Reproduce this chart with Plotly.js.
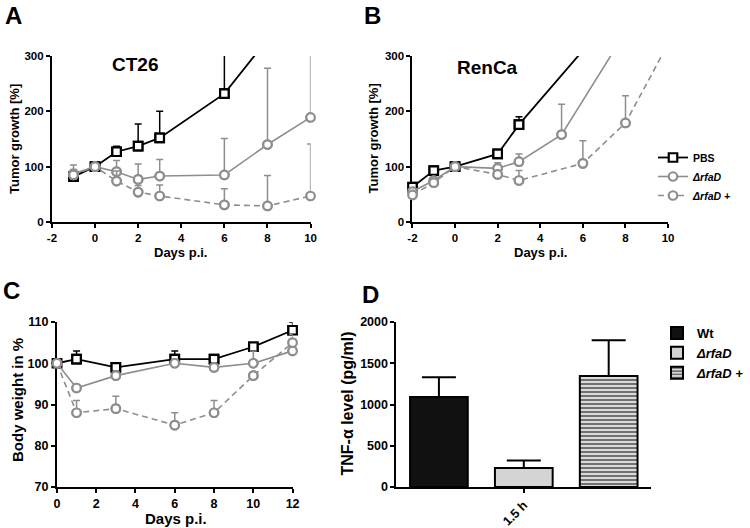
<!DOCTYPE html>
<html><head><meta charset="utf-8">
<script src="https://cdn.plot.ly/plotly-3.0.1.min.js"></script>
<style>html,body{margin:0;padding:0;background:#fff}#chart{width:750px;height:528px}</style>
</head><body><div id="chart"></div>
<script>
// ---------- DATA ----------
const seriesNames = ['PBS', 'ΔrfaD', 'ΔrfaD +'];

// Panel A - CT26 tumor growth [%]
const daysA_pbs   = [-1, 0, 1, 2, 3, 6, 8];
const tumorA_pbs  = [82, 100, 127, 137, 152, 232, 330];
const errA_pbs    = [0, 0, 10, 40, 48, 100, 0];
const daysA_rfaD  = [-1, 0, 1, 2, 3, 6, 8, 10];
const tumorA_rfaD = [87, 100, 91, 77, 83, 85, 140, 189];
const errA_rfaD   = [16, 0, 20, 28, 30, 66, 138, 115];
const daysA_rfaDp = [-1, 0, 1, 2, 3, 6, 8, 10];
const tumorA_rfaDp= [85, 100, 74, 54, 47, 31, 29, 47];
const errA_rfaDp  = [10, 0, 18, 12, 20, 29, 55, 94];

// Panel B - RenCa tumor growth [%]
const daysB_pbs   = [-2, -1, 0, 2, 3, 6];
const tumorB_pbs  = [63, 93, 100, 123, 176, 310];
const errB_pbs    = [0, 0, 0, 4, 14, 0];
const daysB_rfaD  = [-2, -1, 0, 2, 3, 5, 8];
const tumorB_rfaD = [55, 75, 100, 97, 109, 158, 343];
const errB_rfaD   = [0, 0, 0, 10, 14, 55, 0];
const daysB_rfaDp = [-2, -1, 0, 2, 3, 6, 8, 10];
const tumorB_rfaDp= [49, 71, 100, 86, 75, 106, 179, 322];
const errB_rfaDp  = [0, 0, 0, 0, 18, 41, 49, 0];

// Panel C - body weight in %
const daysC        = [0, 1, 3, 6, 8, 10, 12];
const weightC_pbs  = [100, 101, 99, 101, 101, 104, 108];
const errC_pbs     = [0, 2, 0, 2, 0, 0, 2];
const weightC_rfaD = [100, 94, 97, 100, 99, 100, 103];
const errC_rfaD    = [0, 0, 0, 1, 0, 3, 0];
const weightC_rfaDp= [100, 88, 89, 85, 88, 97, 105];
const errC_rfaDp   = [0, 3, 3, 3, 3, 0, 2];

// Panel D - TNF-alpha level (pg/ml) at 1.5 h
const barNames = ['Wt', 'ΔrfaD', 'ΔrfaD +'];
const tnfLevel = [1090, 230, 1345];
const tnfErr   = [240, 90, 435];
const timeLabel = ['1.5 h'];

// tick labels
const ticksDaysAB = [-2, 0, 2, 4, 6, 8, 10];
const ticksTumor  = [0, 100, 200, 300];
const ticksDaysC  = [0, 2, 4, 6, 8, 10, 12];
const ticksWeight = [70, 80, 90, 100, 110];
const ticksTnf    = [0, 500, 1000, 1500, 2000];

// ---------- STYLE ----------
const FONT = 'Liberation Sans, Arial, Helvetica, sans-serif';
const GRAY = '#8e8e8e';
const seriesStyle = [
  {color: '#000000', dash: 'solid', symbol: 'square', lw: 1.8},
  {color: GRAY, dash: 'solid', symbol: 'circle', lw: 1.6},
  {color: GRAY, dash: '6px,4px', symbol: 'circle', lw: 1.6}
];
const W = 750, H = 528;
const px = v => v / W;
const py = v => 1 - v / H;
const bold = arr => arr.map(v => '<b>' + v + '</b>');

function seriesTraces(x, y, err, si, xa, ya, showlegend) {
  const s = seriesStyle[si];
  const zeros = err.map(() => 0);
  const marker = {symbol: s.symbol, size: 8.5, color: '#ffffff', line: {color: s.color, width: 2.2}};
  return [
    {type: 'scatter', mode: 'lines+markers', x: x, y: y, xaxis: xa, yaxis: ya,
     name: si === 0 ? '<b>' + seriesNames[si] + '</b>' : '<b><i>' + seriesNames[si] + '</i></b>',
     line: {color: s.color, width: s.lw, dash: s.dash}, marker: marker,
     error_y: {type: 'data', symmetric: false, array: err, arrayminus: zeros,
               color: s.color, thickness: 1.5, width: 3.5},
     cliponaxis: true, showlegend: showlegend, legend: 'legend', hoverinfo: 'skip'},
    {type: 'scatter', mode: 'markers', x: x, y: y, xaxis: xa, yaxis: ya,
     marker: marker, cliponaxis: false, showlegend: false, hoverinfo: 'skip'}
  ];
}

let traces = [];
traces = traces.concat(seriesTraces(daysA_pbs, tumorA_pbs, errA_pbs, 0, 'x', 'y', true));
traces = traces.concat(seriesTraces(daysA_rfaD, tumorA_rfaD, errA_rfaD, 1, 'x', 'y', true));
traces = traces.concat(seriesTraces(daysA_rfaDp, tumorA_rfaDp, errA_rfaDp, 2, 'x', 'y', true));
traces = traces.concat(seriesTraces(daysB_pbs, tumorB_pbs, errB_pbs, 0, 'x2', 'y2', false));
traces = traces.concat(seriesTraces(daysB_rfaD, tumorB_rfaD, errB_rfaD, 1, 'x2', 'y2', false));
traces = traces.concat(seriesTraces(daysB_rfaDp, tumorB_rfaDp, errB_rfaDp, 2, 'x2', 'y2', false));
traces = traces.concat(seriesTraces(daysC, weightC_pbs, errC_pbs, 0, 'x3', 'y3', false));
traces = traces.concat(seriesTraces(daysC, weightC_rfaD, errC_rfaD, 1, 'x3', 'y3', false));
traces = traces.concat(seriesTraces(daysC, weightC_rfaDp, errC_rfaDp, 2, 'x3', 'y3', false));

const barFill = [
  {color: '#111111', line: {color: '#000', width: 2}},
  {color: '#d4d4d4', line: {color: '#000', width: 2}},
  {color: '#d8d8d8', line: {color: '#000', width: 2},
   pattern: {shape: '-', fgcolor: '#555555', bgcolor: '#dadada', size: 4, solidity: 0.4}}
];
tnfLevel.forEach((v, i) => {
  traces.push({type: 'bar', x: [i], y: [v], width: 0.68, xaxis: 'x4', yaxis: 'y4',
    name: i === 0 ? '<b>' + barNames[i] + '</b>' : '<b><i>' + barNames[i] + '</i></b>',
    marker: barFill[i], legend: 'legend2', hoverinfo: 'skip',
    error_y: {type: 'data', symmetric: false, array: [tnfErr[i]], arrayminus: [0],
              color: '#000', thickness: 2, width: 17}});
});

function axis(extra, fs) {
  return Object.assign({showline: true, linecolor: '#000', linewidth: 2, ticks: 'outside',
    ticklen: 4, tickwidth: 2, tickcolor: '#000', showgrid: false, zeroline: false,
    layer: 'below traces', fixedrange: true, tickmode: 'array',
    tickfont: {family: FONT, size: fs, color: '#000'}}, extra);
}

const ann = (text, x, y, size, opts) => Object.assign({text: '<b>' + text + '</b>', x: px(x), y: py(y),
  xref: 'paper', yref: 'paper', xanchor: 'center', yanchor: 'middle',
  showarrow: false, font: {family: FONT, size: size, color: '#000'}}, opts || {});

const layout = {
  width: W, height: H, margin: {l: 0, r: 0, t: 0, b: 0},
  paper_bgcolor: '#fff', plot_bgcolor: 'rgba(0,0,0,0)', barmode: 'overlay',
  xaxis:  axis({domain: [px(52), px(311)], range: [-2, 10], tickvals: ticksDaysAB, ticktext: bold(ticksDaysAB), anchor: 'y'}, 11.5),
  yaxis:  axis({domain: [py(222), py(56)], range: [0, 300], tickvals: ticksTumor, ticktext: bold(ticksTumor), anchor: 'x'}, 11.5),
  xaxis2: axis({domain: [px(413), px(669)], range: [-2, 10], tickvals: ticksDaysAB, ticktext: bold(ticksDaysAB), anchor: 'y2'}, 11.5),
  yaxis2: axis({domain: [py(222), py(56)], range: [0, 300], tickvals: ticksTumor, ticktext: bold(ticksTumor), anchor: 'x2'}, 11.5),
  xaxis3: axis({domain: [px(57), px(293)], range: [0, 12], tickvals: ticksDaysC, ticktext: bold(ticksDaysC), anchor: 'y3'}, 12.5),
  yaxis3: axis({domain: [py(487), py(322)], range: [70, 110], tickvals: ticksWeight, ticktext: bold(ticksWeight), anchor: 'x3'}, 12.5),
  xaxis4: axis({domain: [px(397), px(652)], range: [-0.5, 2.5], tickvals: [1], ticktext: bold(timeLabel), tickangle: -45, anchor: 'y4'}, 12.5),
  yaxis4: axis({domain: [py(487), py(322)], range: [0, 2000], tickvals: ticksTnf, ticktext: bold(ticksTnf), anchor: 'x4'}, 12.5),
  legend: {x: px(653), y: py(143), xanchor: 'left', yanchor: 'top', bgcolor: 'rgba(0,0,0,0)',
           font: {family: FONT, size: 10.5, color: '#000'}, itemwidth: 30, tracegroupgap: 0},
  legend2: {x: px(658), y: py(318), xanchor: 'left', yanchor: 'top', bgcolor: 'rgba(0,0,0,0)',
           font: {family: FONT, size: 13, color: '#000'}, itemwidth: 30, tracegroupgap: 0},
  annotations: [
    ann('A', 14, 15, 24),
    ann('B', 373, 15, 24),
    ann('C', 12, 290, 24),
    ann('D', 371, 294, 24),
    ann('CT26', 135, 65, 19),
    ann('RenCa', 488, 67, 19),
    ann('Tumor growth [%]', 15, 139, 13, {textangle: -90}),
    ann('Days p.i.', 181, 252, 13),
    ann('Tumor growth [%]', 374, 139, 13, {textangle: -90}),
    ann('Days p.i.', 541, 252, 13),
    ann('Body weight in %', 17, 400, 15, {textangle: -90}),
    ann('Days p.i.', 176, 518, 15),
    ann('TNF-α level (pg/ml)', 347, 404, 16, {textangle: -90})
  ],
  showlegend: true
};

Plotly.newPlot('chart', traces, layout, {displayModeBar: false, staticPlot: true});
</script>
</body></html>
